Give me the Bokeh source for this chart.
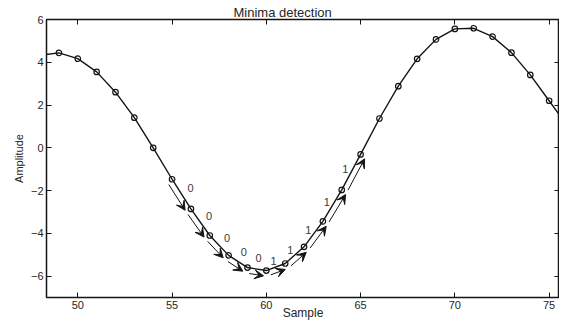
import math
from bokeh.plotting import figure
from bokeh.models import Arrow, VeeHead, LinearAxis, FixedTicker, Range1d, ColumnDataSource
from bokeh.embed import file_html
from bokeh.resources import INLINE
from bokeh.core.properties import value

# ---- data ----
samples = list(range(48, 77))
amplitude = [4.33, 4.44, 4.17, 3.55, 2.60, 1.41, 0.00, -1.47, -2.86, -4.10,
             -5.03, -5.60, -5.74, -5.41, -4.63, -3.44, -1.97, -0.31, 1.37, 2.88,
             4.16, 5.07, 5.56, 5.59, 5.20, 4.45, 3.41, 2.20, 0.98]
arrow_first_sample = 55
arrow_codes = ["0", "0", "0", "0", "0", "1", "1", "1", "1", "1"]
x_ticks = [50, 55, 60, 65, 70, 75]
y_ticks = [-6, -4, -2, 0, 2, 4, 6]

X0, X1 = 48.34, 75.55
Y0, Y1 = -7, 6
FW, FH = 513, 278
FONT = "Liberation Sans"
INK = "#141414"
TXT = "#262626"

p = figure(frame_width=FW, frame_height=FH,
           x_range=Range1d(X0, X1), y_range=Range1d(Y0, Y1),
           output_backend="svg", toolbar_location=None,
           min_border_left=46, min_border_top=19, min_border_right=0, min_border_bottom=24,
           background_fill_color="white", border_fill_color="white")
p.grid.visible = False
p.outline_line_color = INK
p.outline_line_width = 1.5
p.outline_line_alpha = 1.0

p.title.text = "Minima detection"
p.title.align = "left"
p.title.offset = 187
p.title.standoff = 0
p.title.text_font = FONT
p.title.text_font_size = "13px"
p.title.text_font_style = "normal"
p.title.text_color = TXT

def style_axis(ax, ticks, show_labels=True):
    ax.ticker = FixedTicker(ticks=ticks)
    ax.major_tick_in = 5
    ax.major_tick_out = 0
    ax.major_tick_line_color = INK
    ax.major_tick_line_width = 1
    ax.minor_tick_line_color = None
    ax.axis_line_color = None
    ax.major_label_text_font = FONT
    ax.major_label_text_color = TXT
    if show_labels:
        ax.major_label_text_font_size = "11px"
        ax.major_label_standoff = 3
    else:
        ax.major_label_overrides = {v: "" for v in ticks}
        ax.major_label_text_font_size = "1px"
        ax.major_label_standoff = 0

xa = p.xaxis[0]
ya = p.yaxis[0]
style_axis(xa, x_ticks)
style_axis(ya, y_ticks)
ya.major_label_overrides = {v: ("\u2212" + str(abs(v)) if v < 0 else str(v)) for v in y_ticks}
ya.axis_label = "Amplitude"
ya.axis_label_text_font = FONT
ya.axis_label_text_font_size = "11px"
ya.axis_label_text_font_style = "normal"
ya.axis_label_text_color = TXT
ya.axis_label_standoff = 3

xa.axis_label = "Sample"
xa.axis_label_text_font = FONT
xa.axis_label_text_font_size = "12px"
xa.axis_label_text_font_style = "normal"
xa.axis_label_text_color = TXT
xa.axis_label_standoff = -6

ra = LinearAxis()
style_axis(ra, y_ticks, show_labels=False)
p.add_layout(ra, "right")
ta = LinearAxis()
style_axis(ta, x_ticks, show_labels=False)
p.add_layout(ta, "above")

# curve and markers
src = ColumnDataSource(dict(x=samples, y=amplitude))
p.line("x", "y", source=src, line_color=INK, line_width=1.4)
p.scatter("x", "y", source=src, marker="circle", size=5.5, fill_color=None,
          line_color=INK, line_width=1.2)

# arrows and codes along the minimum
sx = FW / (X1 - X0)
sy = FH / (Y1 - Y0)
i0 = samples.index(arrow_first_sample)
lab_x, lab_y, lab_t = [], [], []
for k, code in enumerate(arrow_codes):
    xa0, ya0 = samples[i0 + k], amplitude[i0 + k]
    xa1, ya1 = samples[i0 + k + 1], amplitude[i0 + k + 1]
    dxp = (xa1 - xa0) * sx
    dyp = (ya1 - ya0) * sy
    L = math.hypot(dxp, dyp)
    ux, uy = dxp / L, dyp / L
    nx, ny = uy, -ux          # outward (below the curve) normal, pixels
    off, g0, g1 = 5.6, 2.7, 2.0
    xs = xa0 + (nx * off + ux * g0) / sx
    ys = ya0 + (ny * off + uy * g0) / sy
    xe = xa1 + (nx * off - ux * g1) / sx
    ye = ya1 + (ny * off - uy * g1) / sy
    p.add_layout(Arrow(x_start=xs, y_start=ys, x_end=xe, y_end=ye,
                       line_color=INK, line_width=1,
                       end=VeeHead(size=9, fill_color=INK, line_color=INK, line_width=1)))
    d = 10.7 if code == "0" else 6.5
    mx, my = (xa0 + xa1) / 2, (ya0 + ya1) / 2
    lab_x.append(mx - nx * d / sx)
    lab_y.append(my - ny * d / sy)
    lab_t.append(code)

p.text(lab_x, lab_y, text=lab_t, text_align="center", text_baseline="middle",
       text_font=value(FONT), text_font_size="11px", text_color="#3a3a3a")

open("out.html", "w").write(file_html(p, INLINE))
